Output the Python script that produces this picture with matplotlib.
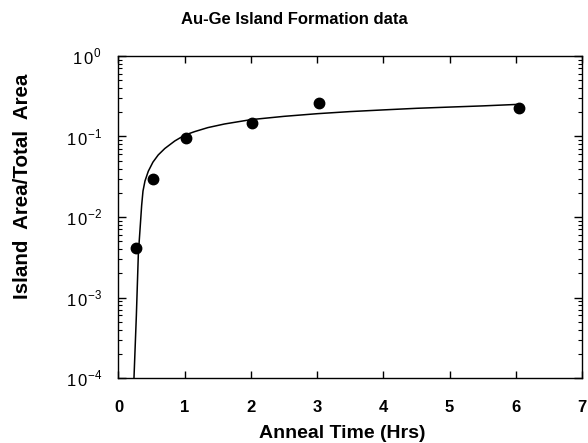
import numpy as np
import matplotlib
matplotlib.use("Agg")
import matplotlib.pyplot as plt
from matplotlib.ticker import LogLocator, FixedLocator, NullFormatter

plt.rcParams['font.family'] = ['Liberation Sans', 'DejaVu Sans']
plt.rcParams['mathtext.fontset'] = 'custom'
plt.rcParams['mathtext.rm'] = 'Liberation Sans'

# measured points
anneal_hrs = [0.26, 0.52, 1.02, 2.01, 3.02, 6.04]
area_frac = [0.0041, 0.030, 0.096, 0.147, 0.26, 0.225]

# fitted curve
fit_hrs = [0.234, 0.27, 0.30, 0.33, 0.35, 0.37, 0.40, 0.45, 0.52, 0.60, 0.70,
           0.85, 1.0, 1.15, 1.35, 1.6, 2.0, 2.5, 3.0, 3.5, 4.0, 4.5, 5.0, 5.5, 6.0]
fit_frac = [1e-4, 0.0006, 0.0035, 0.008, 0.014, 0.021, 0.028, 0.037, 0.048, 0.059, 0.071,
            0.088, 0.104, 0.115, 0.129, 0.143, 0.162, 0.178, 0.192, 0.204, 0.214,
            0.224, 0.232, 0.240, 0.250]

fig = plt.figure(figsize=(5.88, 4.43), dpi=100)
ax = fig.add_axes([0.2015, 0.1467, 0.7885, 0.7269])

ax.plot(fit_hrs, fit_frac, color='black', lw=1.1)
ax.plot(anneal_hrs, area_frac, 'o', color='black', ms=7.5)

ax.set_yscale('log')
ax.set_xlim(0, 7)
ax.set_ylim(1e-4, 1)

ax.xaxis.set_major_locator(FixedLocator(range(8)))
ax.set_xticklabels([str(i) for i in range(8)], fontsize=12, fontweight='bold')
ax.yaxis.set_major_locator(FixedLocator([1e-4, 1e-3, 1e-2, 1e-1, 1]))
ax.set_yticklabels([r'$1\,0^{-4}$', r'$1\,0^{-3}$', r'$1\,0^{-2}$', r'$1\,0^{-1}$', r'$1\,0^{0}$'],
                   fontsize=12)
ax.yaxis.set_minor_locator(LogLocator(base=10, subs=np.arange(2, 10)))
ax.yaxis.set_minor_formatter(NullFormatter())

ax.tick_params(axis='x', which='major', direction='in', length=5, width=1, top=True, pad=16)
ax.tick_params(axis='y', which='major', direction='in', length=6, width=1, right=True, pad=12)
ax.tick_params(axis='y', which='minor', direction='in', length=3, width=0.8, right=True)
for s in ax.spines.values():
    s.set_linewidth(1.0)

ax.set_xlabel('Anneal Time (Hrs)', fontsize=14, fontweight='bold', va='top')
ax.xaxis.set_label_coords(0.482, -0.147)
ax.set_ylabel('Island  Area/Total  Area', fontsize=14.8, fontweight='bold')
ax.yaxis.set_label_coords(-0.187, 0.595)
fig.text(0.5, 0.955, 'Au-Ge Island Formation data', ha='center', va='center',
         fontsize=12, fontweight='bold')

fig.savefig('out.png', dpi=100)
